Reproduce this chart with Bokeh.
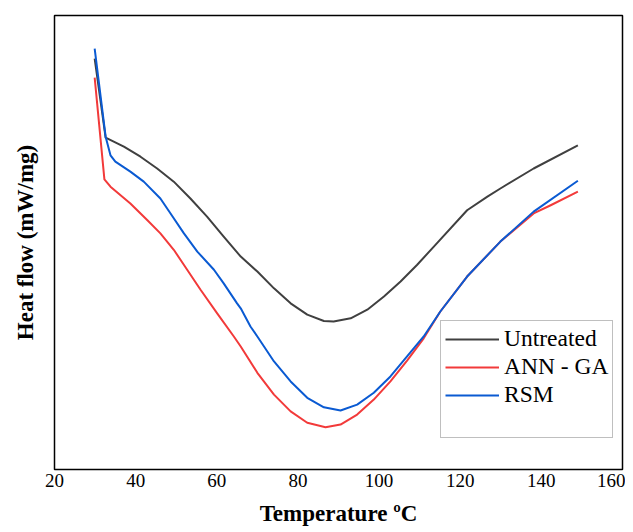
from bokeh.plotting import figure
from bokeh.models import Legend, LegendItem, FixedTicker, Range1d
from bokeh.embed import file_html
from bokeh.resources import INLINE

# Temperature (°C) and heat flow (arbitrary units)
untreated_t = [29.9, 32.6, 37.1, 41.2, 45.3, 49.4, 53.5, 57.6, 61.7, 65.9, 70.0, 74.1, 78.2, 82.3, 86.4, 88.8, 93.0, 97.1, 101.2, 105.3, 109.4, 113.5, 121.7, 126.7, 129.9, 138.1, 149.0]
untreated_v = [9.05, 7.31, 7.11, 6.89, 6.63, 6.34, 5.97, 5.57, 5.13, 4.69, 4.36, 3.99, 3.66, 3.41, 3.27, 3.26, 3.33, 3.52, 3.81, 4.14, 4.51, 4.91, 5.71, 6.01, 6.19, 6.63, 7.14]

ann_t = [29.9, 32.3, 33.8, 38.7, 42.9, 46.1, 49.4, 52.7, 56.0, 60.1, 64.2, 65.9, 70.0, 74.1, 78.2, 82.3, 86.8, 90.5, 94.6, 98.7, 102.8, 106.9, 111.0, 115.1, 121.7, 129.9, 138.1, 142.3, 149.0]
ann_v = [8.63, 6.39, 6.23, 5.86, 5.49, 5.20, 4.84, 4.40, 3.96, 3.44, 2.93, 2.71, 2.13, 1.65, 1.28, 1.03, 0.93, 0.99, 1.21, 1.54, 1.94, 2.40, 2.89, 3.48, 4.25, 5.02, 5.64, 5.82, 6.12]

rsm_t = [29.9, 32.6, 33.8, 35.0, 38.7, 42.0, 46.1, 48.6, 51.9, 55.2, 59.3, 61.7, 65.0, 65.9, 68.3, 70.0, 74.1, 78.2, 82.3, 86.4, 90.5, 94.6, 98.7, 102.8, 106.9, 111.0, 115.1, 121.7, 129.9, 138.1, 149.0]
rsm_v = [9.27, 7.33, 6.92, 6.78, 6.56, 6.34, 5.97, 5.64, 5.20, 4.80, 4.40, 4.10, 3.66, 3.55, 3.15, 2.93, 2.38, 1.94, 1.58, 1.37, 1.30, 1.43, 1.69, 2.05, 2.49, 2.93, 3.48, 4.25, 5.02, 5.68, 6.36]

x_ticks = [20, 40, 60, 80, 100, 120, 140, 160]

FONT = "Liberation Serif"

p = figure(width=625, height=528, output_backend="svg", toolbar_location=None,
           x_range=Range1d(20, 160), y_range=Range1d(0, 10),
           min_border_left=54, min_border_right=3, min_border_top=15, min_border_bottom=58)

p.xgrid.grid_line_color = None
p.ygrid.grid_line_color = None
p.outline_line_color = "black"
p.outline_line_width = 1.5

r1 = p.line(untreated_t, untreated_v, line_color="#404040", line_width=2, line_join="round")
r2 = p.line(ann_t, ann_v, line_color="#f23a3a", line_width=2, line_join="round")
r3 = p.line(rsm_t, rsm_v, line_color="#0a5ad2", line_width=2, line_join="round")
dummy = p.line(rsm_t, rsm_v, line_alpha=0)

p.xaxis.ticker = FixedTicker(ticks=x_ticks)
p.xaxis.major_tick_out = 0
p.xaxis.major_tick_in = 0
p.xaxis.minor_tick_out = 0
p.xaxis.minor_tick_in = 0
p.xaxis.axis_line_color = None
p.xaxis.major_label_text_font = FONT
p.xaxis.major_label_text_font_size = "19px"
p.xaxis.major_label_text_color = "black"
p.xaxis.major_label_standoff = 4
p.xaxis.axis_label = "Temperature ºC"
p.xaxis.axis_label_text_font = FONT
p.xaxis.axis_label_text_font_size = "23px"
p.xaxis.axis_label_text_font_style = "bold"
p.xaxis.axis_label_text_color = "black"
p.xaxis.axis_label_standoff = 11

p.yaxis.ticker = FixedTicker(ticks=[])
p.yaxis.major_tick_out = 0
p.yaxis.major_tick_in = 0
p.yaxis.minor_tick_out = 0
p.yaxis.minor_tick_in = 0
p.yaxis.axis_line_color = None
p.yaxis.axis_label = "Heat flow (mW/mg)"
p.yaxis.axis_label_text_font = FONT
p.yaxis.axis_label_text_font_size = "23px"
p.yaxis.axis_label_text_font_style = "bold"
p.yaxis.axis_label_text_color = "black"
p.yaxis.axis_label_standoff = 17

legend = Legend(items=[
    LegendItem(label="Untreated", renderers=[r1]),
    LegendItem(label="ANN - GA", renderers=[r2]),
    LegendItem(label="RSM", renderers=[r3]),
    LegendItem(label=" ", renderers=[dummy]),
], location=(386, 31))
legend.label_text_font = FONT
legend.label_text_font_size = "23.5px"
legend.label_text_color = "black"
legend.glyph_width = 54
legend.glyph_height = 24
legend.label_height = 24
legend.label_standoff = 5
legend.spacing = 1
legend.padding = 4
legend.margin = 0
legend.border_line_color = "#808080"
legend.border_line_width = 1
legend.background_fill_color = "white"
legend.background_fill_alpha = 1
p.add_layout(legend, "center")

open("out.html", "w").write(file_html(p, INLINE))
